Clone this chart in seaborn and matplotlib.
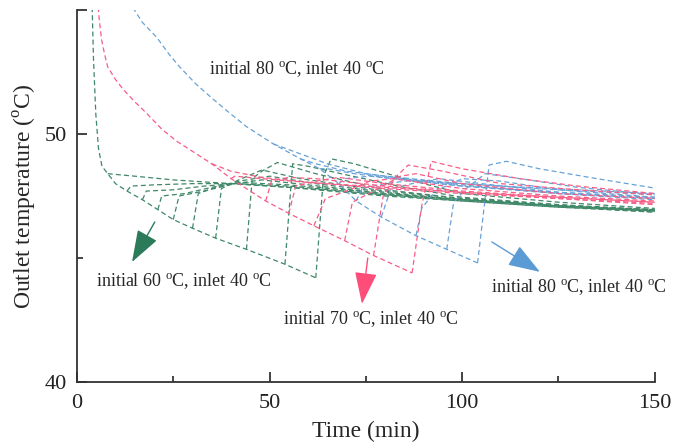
import seaborn as sns
import matplotlib
matplotlib.use('Agg')
import matplotlib.pyplot as plt
import pandas as pd

# shared decline path of each family (time in min, outlet temperature in C)
green_t = [3.8, 4.3, 4.9, 5.6, 6.5, 8.0, 10, 13, 17, 21, 25, 30, 36, 44, 54, 62]
green_T = [56.0, 53.0, 50.8, 49.4, 48.7, 48.4, 48.0, 47.7, 47.35, 46.95, 46.55, 46.2, 45.8, 45.35, 44.75, 44.2]

pink_t = [5.3, 5.8, 6.4, 7.2, 8, 10, 12, 15, 18, 22, 26, 30, 35, 40, 49, 55, 61.5, 69.5, 77, 87]
pink_T = [55.5, 54.6, 53.8, 53.2, 52.7, 52.2, 51.8, 51.3, 50.85, 50.2, 49.7, 49.3, 48.8, 48.2,
          47.3, 46.8, 46.3, 45.7, 45.1, 44.4]

blue_t = [14.5, 17, 20.7, 24, 26.7, 31, 35.4, 40, 44, 51, 58, 63, 68, 72.5, 79, 88, 96, 104]
blue_T = [55.1, 54.5, 53.9, 53.2, 52.7, 52.0, 51.4, 50.8, 50.3, 49.6, 49.0, 48.6, 48.0, 47.3,
          46.65, 45.9, 45.35, 44.8]

# switching times (taken on the path) and what follows each switch
green_switch = [8.0, 13, 17, 21, 25, 30, 36, 44, 54, 62]
green_after = [
    [(15, 48.3), (25, 48.15), (35, 48.05), (45, 47.95), (60, 47.8), (80, 47.55), (100, 47.35), (125, 47.1), (150, 46.95)],
    [(14, 47.9), (20, 47.95), (30, 48.0), (41, 48.0), (55, 47.85), (80, 47.5), (100, 47.3), (125, 47.05), (150, 46.9)],
    [(18, 47.7), (25, 47.75), (33, 47.9), (41, 48.0), (55, 47.9), (80, 47.55), (100, 47.3), (125, 47.05), (150, 46.85)],
    [(22, 47.5), (28, 47.6), (35, 47.85), (42, 48.05), (55, 47.95), (80, 47.6), (100, 47.35), (125, 47.1), (150, 46.95)],
    [(26.5, 47.5), (33, 47.7), (41, 48.0), (48, 48.15), (60, 47.95), (80, 47.6), (100, 47.35), (125, 47.1), (150, 46.9)],
    [(31.5, 47.6), (36, 47.85), (42, 48.1), (50, 48.3), (62, 48.0), (80, 47.65), (100, 47.35), (125, 47.1), (150, 46.85)],
    [(37.5, 47.8), (42, 48.15), (48, 48.55), (58, 48.2), (80, 47.7), (100, 47.4), (125, 47.1), (150, 46.9)],
    [(45.5, 48.2), (48, 48.5), (52, 48.85), (62, 48.4), (80, 47.75), (100, 47.4), (125, 47.15), (150, 46.95)],
    [(56, 48.8), (60, 48.7), (70, 48.35), (85, 47.85), (100, 47.45), (125, 47.15), (150, 46.9)],
    [(64, 48.3), (66, 49.0), (72, 48.8), (85, 48.2), (100, 47.6), (125, 47.25), (150, 47.0)],
]

pink_switch = [35, 40, 49, 55, 61.5, 69.5, 77, 87]
pink_after = [
    [(40, 48.5), (48, 48.25), (60, 48.05), (80, 47.8), (100, 47.6), (125, 47.4), (150, 47.2)],
    [(41, 48.3), (48, 48.2), (60, 48.05), (80, 47.85), (100, 47.65), (125, 47.45), (150, 47.25)],
    [(50.5, 48.1), (55, 48.25), (62, 48.2), (80, 47.9), (100, 47.65), (125, 47.4), (150, 47.15)],
    [(56.8, 47.9), (62, 48.1), (68, 48.25), (80, 48.0), (100, 47.7), (125, 47.45), (150, 47.25)],
    [(64.5, 47.4), (70, 47.7), (76, 48.1), (82, 48.2), (100, 47.8), (125, 47.5), (150, 47.3)],
    [(71.5, 47.25), (77, 47.7), (84, 48.3), (88, 48.4), (100, 48.0), (125, 47.6), (150, 47.4)],
    [(79.5, 47.5), (83, 48.3), (86, 48.75), (95, 48.5), (110, 48.0), (130, 47.75), (150, 47.55)],
    [(89.5, 47.1), (92, 48.9), (100, 48.6), (115, 48.2), (130, 47.9), (150, 47.6)],
]

blue_switch = [51, 58, 63, 68, 72.5, 79, 88, 96, 104]
blue_after = [
    [(58, 49.2), (65, 48.8), (75, 48.4), (90, 48.1), (110, 47.9), (130, 47.75), (150, 47.6)],
    [(62, 48.8), (70, 48.5), (80, 48.3), (100, 48.0), (125, 47.75), (150, 47.55)],
    [(65, 48.6), (72, 48.4), (82, 48.2), (100, 47.9), (125, 47.65), (150, 47.45)],
    [(69.5, 48.2), (76, 48.3), (86, 48.15), (100, 47.9), (125, 47.6), (150, 47.4)],
    [(74, 47.8), (80, 48.0), (88, 48.15), (100, 47.95), (125, 47.6), (150, 47.35)],
    [(81.5, 47.8), (87, 48.0), (94, 48.2), (105, 48.0), (125, 47.65), (150, 47.4)],
    [(89.5, 47.0), (93, 47.7), (100, 48.2), (110, 48.1), (125, 47.75), (150, 47.45)],
    [(97.8, 47.25), (101, 47.8), (106, 48.4), (115, 48.2), (130, 47.85), (150, 47.55)],
    [(107, 48.75), (111.5, 48.9), (120, 48.6), (135, 48.2), (150, 47.82)],
]

colors = {'g': '#3f8868', 'p': '#f85d86', 'b': '#68a2d6'}


def build(fam, path_t, path_T, switches, afters):
    # the shared path is drawn once, each curve carries on from its switch point
    rows = [{'t': t, 'T': T, 'family': fam, 'curve': f'{fam}_path'}
            for t, T in zip(path_t, path_T)]
    for i, (sw, after) in enumerate(zip(switches, afters)):
        k = path_t.index(sw)
        pts = [(path_t[k], path_T[k])] + after
        for t, T in pts:
            rows.append({'t': t, 'T': T, 'family': fam, 'curve': f'{fam}{i}'})
    return rows


rows = (build('g', green_t, green_T, green_switch, green_after)
        + build('b', blue_t, blue_T, blue_switch, blue_after)
        + build('p', pink_t, pink_T, pink_switch, pink_after))
df = pd.DataFrame(rows)

sns.set_style('ticks')
plt.rcParams['font.family'] = ['Liberation Serif', 'DejaVu Serif']
plt.rcParams['mathtext.fontset'] = 'custom'
plt.rcParams['mathtext.rm'] = 'Liberation Serif'

fig = plt.figure(figsize=(6.75, 4.46), dpi=100)
ax = fig.add_axes([0.114, 0.1435, 0.856, 0.834])

sns.lineplot(data=df, x='t', y='T', hue='family', units='curve', estimator=None,
             sort=False, palette=colors, legend=False, ax=ax,
             linewidth=0.9, linestyle=(0, (4, 2.5)))

ax.set_xlim(0, 150)
ax.set_ylim(40, 55)
ax.set_xticks([0, 50, 100, 150])
ax.set_xticks([25, 75, 125], minor=True)
ax.set_yticks([40, 50, 55])
ax.set_yticklabels(['40', '50', ''])
ax.set_yticks([45], minor=True)
ax.tick_params(which='major', direction='in', length=7, width=1.2, labelsize=16, colors='#222222')
ax.tick_params(axis='x', which='major', pad=9)
ax.tick_params(axis='y', which='major', pad=7)
ax.tick_params(which='minor', direction='in', length=4, width=1.2)
for s in ['top', 'right']:
    ax.spines[s].set_visible(False)
for s in ['left', 'bottom']:
    ax.spines[s].set_linewidth(1.3)
    ax.spines[s].set_color('#333333')

deg = r'$^{\mathrm{o}}$C'
ax.set_xlabel('Time (min)', fontsize=17, labelpad=5)
ax.set_ylabel('Outlet temperature (' + deg + ')', fontsize=17, labelpad=4)

txt = ', inlet 40 ' + deg
ax.text(57.1, 52.58, 'initial 80 ' + deg + txt, fontsize=13, ha='center', va='center')
ax.text(27.8, 44.03, 'initial 60 ' + deg + txt, fontsize=13, ha='center', va='center')
ax.text(76.3, 42.5, 'initial 70 ' + deg + txt, fontsize=13, ha='center', va='center')
ax.text(130.3, 43.79, 'initial 80 ' + deg + txt, fontsize=13, ha='center', va='center')

arrows = [((20.2, 46.45), (14.3, 44.84), '#2b7a5a'),
          ((75.5, 45.0), (74.0, 43.15), '#ff4d7a'),
          ((107.7, 45.65), (120.2, 44.44), '#5b9bd5')]
for tail, head, c in arrows:
    ax.annotate('', xy=head, xytext=tail,
                arrowprops=dict(arrowstyle='-|>,head_length=1.0,head_width=0.35',
                                color=c, lw=1.0, mutation_scale=20, shrinkA=0, shrinkB=0))

fig.savefig('out.png', dpi=100)
